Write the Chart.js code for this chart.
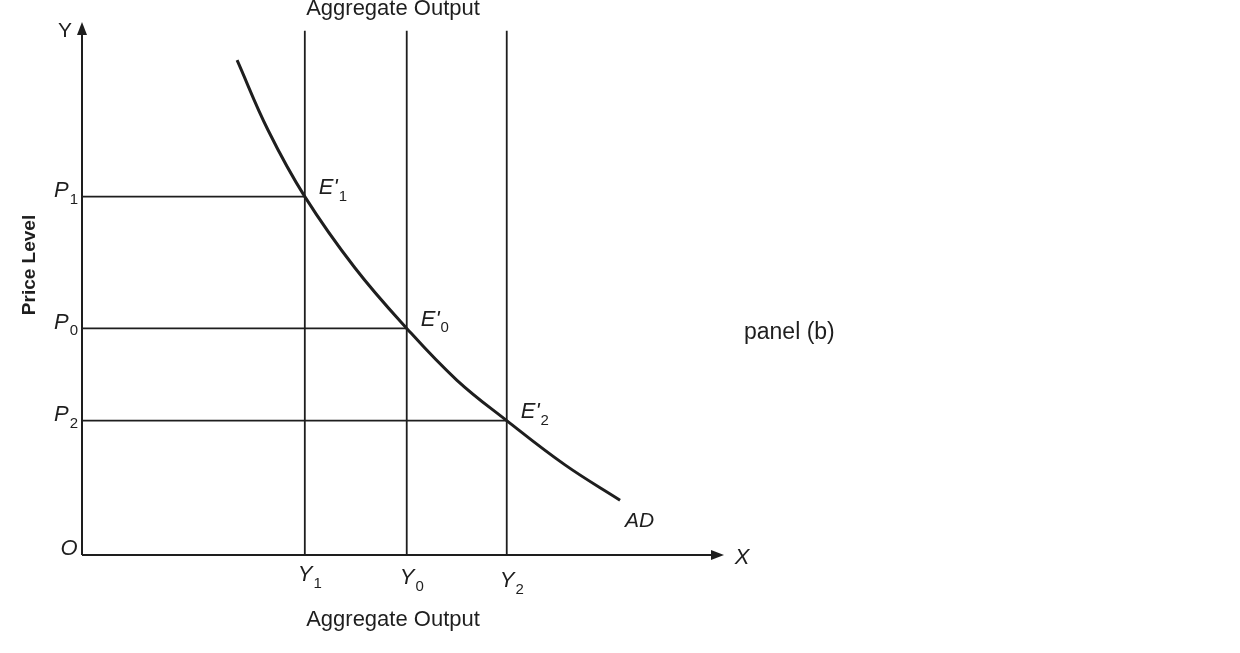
<!DOCTYPE html>
<html>
<head>
<meta charset="utf-8">
<script src="https://cdn.jsdelivr.net/npm/chart.js@4/dist/chart.umd.min.js"></script>
<style>
  body { margin: 0; background: #fff; }
  #wrap { width: 1240px; height: 653px; }
</style>
</head>
<body>
<div id="wrap"><canvas id="chart" width="1240" height="653"></canvas></div>
<script>
// output levels Y1, Y0, Y2 and the matching price levels P1, P0, P2
var outputLabels = ['1', '0', '2'];
var outputValues = [35.2, 51.3, 67.1];
var priceValues = [68, 43, 25.5];

// aggregate demand curve (AD)
var adX = [24.5, 29.4, 35.2, 43.1, 51.3, 59.2, 67.1, 76.3, 85];
var adY = [93.9, 80.6, 68, 54.5, 43, 33.2, 25.5, 17.1, 10.4];

var axisMax = 100;
var lineTop = 99.5;
var ink = '#1e1e1e';
var fontFam = '"Liberation Sans", Arial, sans-serif';

var datasets = [];
datasets.push({
  data: adX.map(function (x, i) { return { x: x, y: adY[i] }; }),
  borderColor: ink, borderWidth: 3, pointRadius: 0,
  tension: 0.4, clip: false
});
outputValues.forEach(function (q, i) {
  // horizontal from price axis to E'
  datasets.push({
    data: [{ x: 0, y: priceValues[i] }, { x: q, y: priceValues[i] }],
    borderColor: ink, borderWidth: 1.8, pointRadius: 0, clip: false
  });
  // vertical through Y_i
  datasets.push({
    data: [{ x: q, y: 0 }, { x: q, y: lineTop }],
    borderColor: ink, borderWidth: 1.8, pointRadius: 0, clip: false
  });
});
// axes
datasets.push({
  data: [{ x: 0, y: 0 }, { x: 0, y: axisMax }],
  borderColor: ink, borderWidth: 2, pointRadius: 0, clip: false
});
datasets.push({
  data: [{ x: 0, y: 0 }, { x: axisMax, y: 0 }],
  borderColor: ink, borderWidth: 2, pointRadius: 0, clip: false
});

function subText(ctx, main, sub, x, y, size) {
  ctx.font = 'italic ' + size + 'px ' + fontFam;
  ctx.textAlign = 'left';
  ctx.textBaseline = 'middle';
  ctx.fillText(main, x, y);
  var w = ctx.measureText(main).width;
  ctx.font = Math.round(size * 0.68) + 'px ' + fontFam;
  ctx.fillText(sub, x + w + 1, y + size * 0.4);
}

var labelPlugin = {
  id: 'labels',
  afterDraw: function (chart) {
    var ctx = chart.ctx;
    var sx = chart.scales.x, sy = chart.scales.y;
    var x0 = sx.getPixelForValue(0), y0 = sy.getPixelForValue(0);
    var xe = sx.getPixelForValue(axisMax), ye = sy.getPixelForValue(axisMax);
    ctx.save();
    ctx.fillStyle = ink;
    // arrow heads
    ctx.beginPath();
    ctx.moveTo(x0, ye - 6); ctx.lineTo(x0 - 5, ye + 7); ctx.lineTo(x0 + 5, ye + 7);
    ctx.closePath(); ctx.fill();
    ctx.beginPath();
    ctx.moveTo(xe + 9, y0); ctx.lineTo(xe - 4, y0 - 5); ctx.lineTo(xe - 4, y0 + 5);
    ctx.closePath(); ctx.fill();

    ctx.font = '21px ' + fontFam;
    ctx.textBaseline = 'middle';
    ctx.textAlign = 'center';
    ctx.fillText('Y', x0 - 17, ye + 3);
    ctx.font = 'italic 22px ' + fontFam;
    ctx.fillText('X', xe + 27, y0 + 3);
    ctx.fillText('O', x0 - 13, y0 - 6);

    outputValues.forEach(function (q, i) {
      var px = sx.getPixelForValue(q);
      var py = sy.getPixelForValue(priceValues[i]);
      subText(ctx, 'P', outputLabels[i], x0 - 28, py - 6, 22);
      subText(ctx, 'Y', outputLabels[i], px - 7, y0 + 20 + i * 3, 22);
      subText(ctx, "E'", outputLabels[i], px + 14, py - 9, 22);
    });

    var adEnd = adX.length - 1;
    ctx.font = 'italic 21px ' + fontFam;
    ctx.textAlign = 'left';
    ctx.fillText('AD', sx.getPixelForValue(adX[adEnd]) + 5, sy.getPixelForValue(adY[adEnd]) + 21);

    ctx.font = '22px ' + fontFam;
    ctx.textAlign = 'center';
    ctx.fillText('Aggregate Output', 393, 9);
    ctx.fillText('Aggregate Output', 393, 620);
    ctx.textAlign = 'left';
    ctx.font = '23px ' + fontFam;
    ctx.fillText('panel (b)', 744, 333);

    ctx.translate(30, 265);
    ctx.rotate(-Math.PI / 2);
    ctx.textAlign = 'center';
    ctx.font = 'bold 19px ' + fontFam;
    ctx.fillText('Price Level', 0, 0);
    ctx.restore();
  }
};

new Chart(document.getElementById('chart').getContext('2d'), {
  type: 'line',
  data: { datasets: datasets },
  options: {
    responsive: false,
    animation: false,
    layout: { padding: { left: 82, right: 525, top: 28, bottom: 98 } },
    plugins: { legend: { display: false }, tooltip: { enabled: false } },
    scales: {
      x: { type: 'linear', min: 0, max: axisMax, display: false },
      y: { type: 'linear', min: 0, max: axisMax, display: false }
    }
  },
  plugins: [labelPlugin]
});
</script>
</body>
</html>
